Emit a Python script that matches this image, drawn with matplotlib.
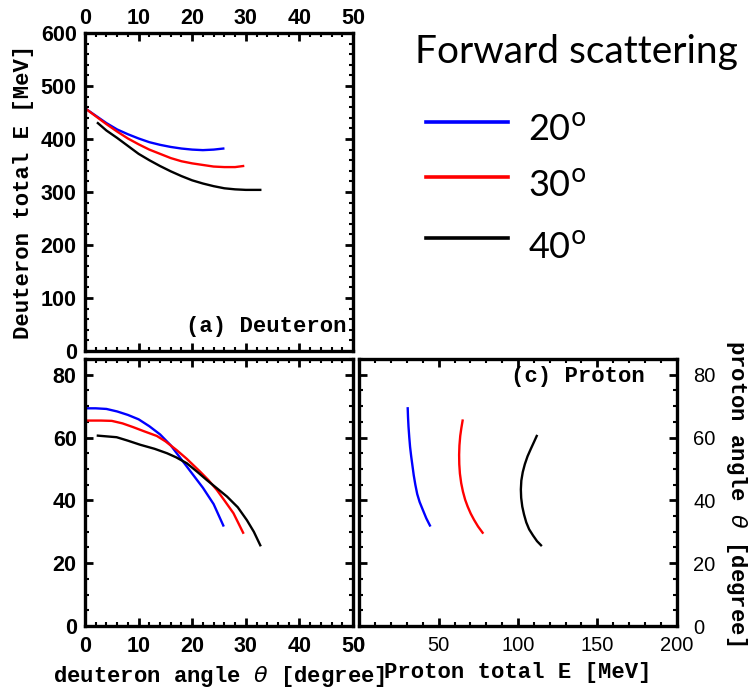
import numpy as np
import matplotlib.pyplot as plt
from matplotlib.lines import Line2D
from matplotlib.ticker import MultipleLocator

# (a) deuteron total energy vs deuteron angle
a_x20 = [0, 2, 4, 6, 8, 10, 12, 14, 16, 18, 20, 22, 24, 25.8]
a_y20 = [458, 444, 430, 418, 409, 401, 394, 389, 385, 382, 380, 379, 380, 382]
a_x30 = [0, 2, 4, 6, 8, 10, 12, 14, 16, 18, 20, 22, 24, 26, 28, 29.5]
a_y30 = [458, 443, 428, 414, 401, 390, 380, 372, 364, 358, 354, 351, 348, 347, 347, 349]
a_x40 = [2.4, 4, 6, 8, 10, 12, 14, 16, 18, 20, 22, 24, 26, 28, 30, 32.7]
a_y40 = [430, 416, 402, 387, 372, 360, 349, 339, 330, 322, 316, 311, 307, 305, 304, 304]

# (b) proton angle vs deuteron angle
b_x20 = [0, 2, 4, 6, 8, 10, 12, 14, 16, 18, 20, 22, 24, 25.8]
b_y20 = [69.3, 69.3, 69.1, 68.3, 67.2, 65.8, 63.6, 61.0, 57.5, 53.0, 48.5, 44.0, 38.8, 32.0]
b_x30 = [0.5, 3, 5, 7, 9, 11, 13.4, 15, 17.1, 19, 21.5, 23, 24.6, 26, 27.7, 29.5]
b_y30 = [65.4, 65.4, 65.3, 64.5, 63.3, 62.0, 60.5, 58.8, 56.0, 53.2, 49.1, 46.5, 43.3, 40.0, 35.9, 29.7]
b_x40 = [2.4, 5.9, 8, 10.3, 13, 15.3, 17, 19, 21, 22.7, 24.5, 26.5, 28.5, 30.2, 31.5, 32.7]
b_y40 = [60.6, 60.1, 59.0, 57.7, 56.4, 55.0, 53.7, 51.8, 49.0, 46.5, 44.0, 41.2, 37.8, 33.7, 30.0, 25.7]

# (c) proton angle vs proton total energy
c_e20 = [30.5, 30.7, 31.0, 31.5, 32.0, 32.7, 33.5, 34.3, 35.3, 36.5, 38.0, 40.0, 42.2, 44.5]
c_y20 = [69.3, 66.5, 63.5, 60.0, 57.0, 54.0, 51.0, 48.0, 45.0, 42.0, 39.5, 37.0, 34.3, 32.0]
c_e30 = [65.1, 64.3, 63.6, 63.1, 62.9, 63.0, 63.4, 64.2, 65.3, 66.7, 68.3, 70.2, 72.3, 74.8, 77.7]
c_y30 = [65.4, 63.0, 60.5, 57.5, 54.5, 51.5, 48.5, 45.5, 42.8, 40.2, 38.0, 35.8, 33.8, 31.7, 29.7]
c_e40 = [111.8, 110.0, 108.0, 106.0, 104.3, 103.0, 102.1, 101.8, 102.0, 102.7, 103.8, 105.2, 107.0, 109.5, 112.0, 114.5]
c_y40 = [60.5, 58.5, 56.3, 54.0, 51.5, 49.0, 46.3, 43.5, 40.8, 38.0, 35.5, 33.0, 30.8, 28.8, 27.0, 25.7]

labels = ["20", "30", "40"]
colors = ["#0000ff", "#ff0000", "#000000"]

W, H = 752, 690
fig = plt.figure(figsize=(W / 100, H / 100), dpi=100)

mono = "Liberation Mono"
tickfont = dict(family="Liberation Sans", weight="bold", size=15.5)


def frame(ax, xmaj, xmin, ymaj, ymin):
    for s in ax.spines.values():
        s.set_linewidth(2.4)
    ax.xaxis.set_major_locator(MultipleLocator(xmaj))
    ax.xaxis.set_minor_locator(MultipleLocator(xmin))
    ax.yaxis.set_major_locator(MultipleLocator(ymaj))
    ax.yaxis.set_minor_locator(MultipleLocator(ymin))
    ax.tick_params(which="both", direction="in", top=True, right=True)
    ax.tick_params(which="major", length=6, width=2)
    ax.tick_params(which="minor", length=3, width=1.5)


ax_a = fig.add_axes([85 / W, 1 - 351 / H, 268 / W, 318 / H])
ax_b = fig.add_axes([85 / W, 1 - 626 / H, 268 / W, 267 / H])
ax_c = fig.add_axes([359.3 / W, 1 - 626 / H, 317.4 / W, 267 / H])

for x, y, c in zip([a_x20, a_x30, a_x40], [a_y20, a_y30, a_y40], colors):
    ax_a.plot(x, y, color=c, lw=1.7)
for x, y, c in zip([b_x20, b_x30, b_x40], [b_y20, b_y30, b_y40], colors):
    ax_b.plot(x, y, color=c, lw=1.7)
for x, y, c in zip([c_e20, c_e30, c_e40], [c_y20, c_y30, c_y40], colors):
    ax_c.plot(x, y, color=c, lw=1.7)

# panel (a)
ax_a.set_xlim(0, 50)
ax_a.set_ylim(0, 600)
frame(ax_a, 10, 2, 100, 20)
ax_a.tick_params(labelbottom=False, labeltop=True)
ax_a.tick_params(axis="x", pad=3)
ax_a.tick_params(axis="y", pad=6)
ax_a.set_ylabel("Deuteron total E [MeV]", family=mono, weight="bold", size=16, labelpad=5)
ax_a.text(0.975, 0.045, "(a) Deuteron", transform=ax_a.transAxes, ha="right", va="bottom",
          family=mono, weight="bold", size=16)

# panel (b)
ax_b.set_xlim(0, 50)
ax_b.set_ylim(0, 85)
frame(ax_b, 10, 2, 20, 5)
ax_b.tick_params(axis="x", pad=7)
ax_b.tick_params(axis="y", pad=6)
ax_b.set_xlabel(r"deuteron angle $\theta$ [degree]", family=mono, weight="bold", size=16, labelpad=5)

# panel (c)
ax_c.set_xlim(0, 200)
ax_c.set_ylim(0, 85)
frame(ax_c, 50, 10, 20, 5)
ax_c.tick_params(labelleft=False, labelright=True)
ax_c.tick_params(axis="x", pad=7)
ax_c.tick_params(axis="y", pad=12)
ax_c.yaxis.set_label_position("right")
ax_c.set_ylabel(r"proton angle $\theta$ [degree]", family=mono, weight="bold", size=16,
                rotation=270, labelpad=24)
ax_c.set_xlabel("Proton total E [MeV]", family=mono, weight="bold", size=16, labelpad=5)
ax_c.text(0.9, 0.975, "(c) Proton", transform=ax_c.transAxes, ha="right", va="top",
          family=mono, weight="bold", size=16)

for ax in (ax_a, ax_b, ax_c):
    for t in ax.get_xticklabels() + ax.get_yticklabels():
        t.set_fontproperties(tickfont)
        if ax is ax_c:
            t.set_fontweight("normal")
            t.set_fontsize(14.5)

# legend drawn by hand on the figure, top right
fig.text(576 / W, 1 - 52 / H, "Forward scattering", family="Lato", size=28, ha="center", va="center")
for i, (lab, c) in enumerate(zip(labels, colors)):
    yy = 1 - [122, 177, 238][i] / H
    fig.add_artist(Line2D([426 / W, 508 / W], [yy, yy], color=c, lw=2.6))
    fig.text(528 / W, 1 - [130, 186, 247][i] / H, lab + r"$^{\mathrm{o}}$", family="Lato",
             size=26, ha="left", va="center")

fig.savefig("out.png", dpi=100)
